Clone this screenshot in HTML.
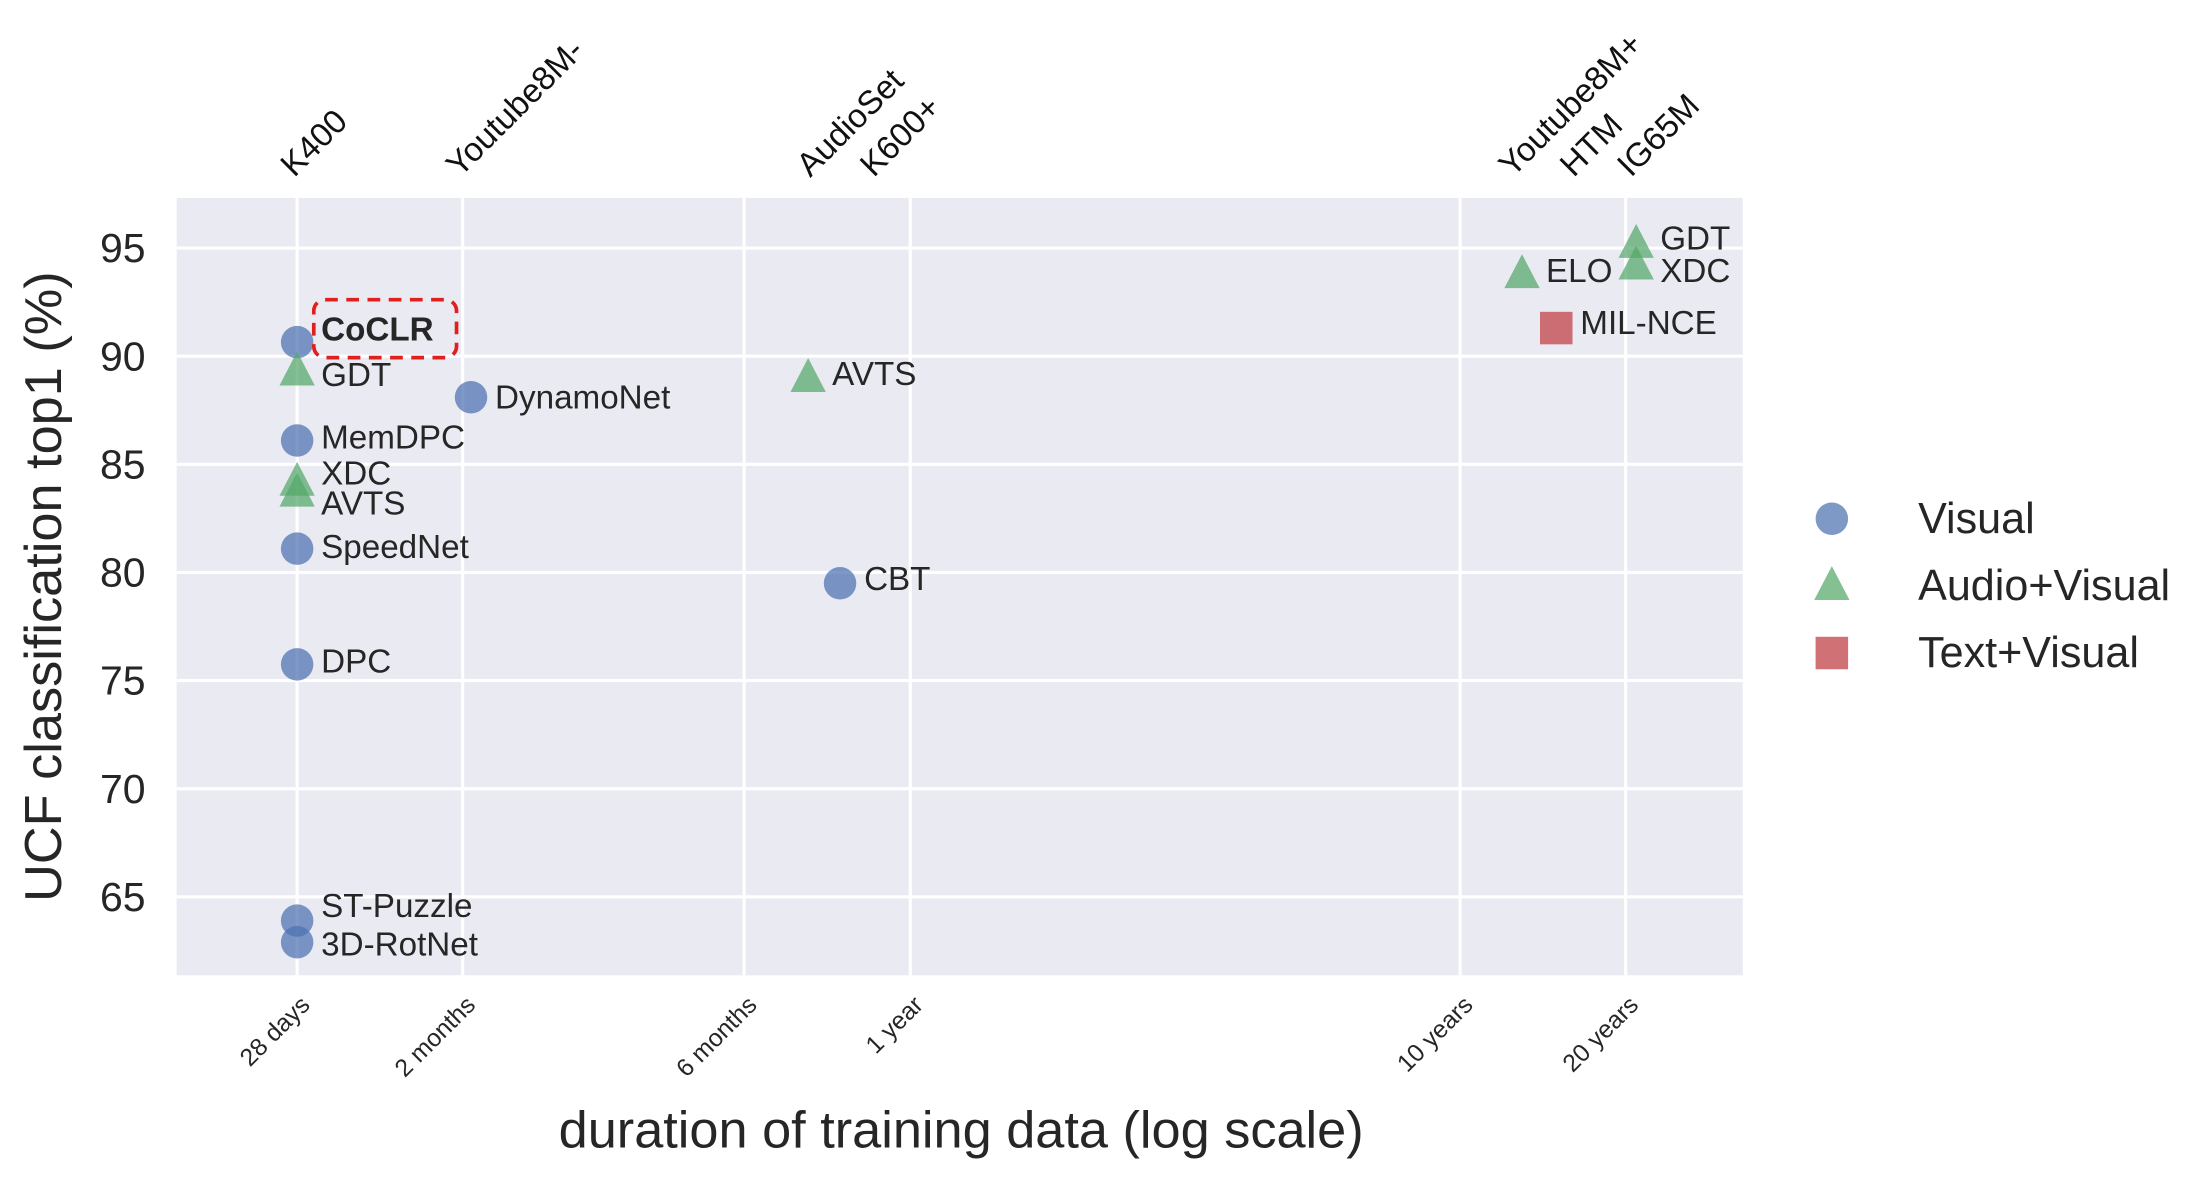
<!DOCTYPE html>
<html><head><meta charset="utf-8"><style>
html,body{margin:0;padding:0;background:#fff;}
svg{display:block;font-family:"Liberation Sans",Arial,sans-serif;}
</style></head><body>
<svg id="chart" width="2205" height="1177" viewBox="0 0 1560 832.7" xmlns="http://www.w3.org/2000/svg"></svg>
<script>
// ---- data ----
const yTicks = [65, 70, 75, 80, 85, 90, 95];
const xTickDays = [28, 56, 182, 365, 3650, 7300];
const xTickLabels = ['28 days', '2 months', '6 months', '1 year', '10 years', '20 years'];
const topDays = [28, 56, 243, 317, 4600, 5940, 7550];
const topLabels = ['K400', 'Youtube8M-', 'AudioSet', 'K600+', 'Youtube8M+', 'HTM', 'IG65M'];
const names = ['CoCLR','MemDPC','SpeedNet','DPC','ST-Puzzle','3D-RotNet','DynamoNet','CBT',
               'GDT','XDC','AVTS','AVTS','ELO','GDT','XDC','MIL-NCE'];
const kinds = ['v','v','v','v','v','v','v','v','a','a','a','a','a','a','a','t'];
const days = [28,28,28,28,28,28,58,272,28,28,28,238,4730,7630,7630,5460];
const acc = [90.65,86.1,81.1,75.75,63.9,62.9,88.1,79.5,89.3,84.2,83.7,89.0,93.8,95.2,94.2,91.3];
const labelAcc = [91.25,86.25,81.2,75.9,64.6,62.8,88.1,79.7,89.15,84.6,83.2,89.2,93.95,95.45,93.95,91.55];

// ---- scales (viewBox units) ----
const L=125,R=1233,T=140,B=690;
function xs(d){return 644+(Math.log10(d)-Math.log10(365))*389;}
function ys(v){return 252-(v-90)*15.3;}
const NS='http://www.w3.org/2000/svg';
const svg=document.getElementById('chart');
function mk(tag,attrs,parent){const e=document.createElementNS(NS,tag);for(const k in attrs)e.setAttribute(k,attrs[k]);(parent||svg).appendChild(e);return e;}

const bg=mk('rect',{x:L,y:T,width:R-L,height:B-T,fill:'#eaeaf2'});



yTicks.forEach(v=>{
  const g=mk('line',{x1:L,x2:R,y1:ys(v),y2:ys(v),stroke:'#fff','stroke-width':2.2});
  
  
  const t=mk('text',{x:103,y:ys(v)+10,'text-anchor':'end','font-size':29,fill:'#262626'});
  t.textContent=v;
  
  
});
xTickDays.forEach((d,i)=>{
  const x=xs(d);
  const g=mk('line',{x1:x,x2:x,y1:T,y2:B,stroke:'#fff','stroke-width':2.2});
  
  
  const t=mk('text',{x:0,y:0,'text-anchor':'end','font-size':17.5,fill:'#262626',transform:`translate(${x+10},${712}) rotate(-45)`});
  t.textContent=xTickLabels[i];
  
  
});
topDays.forEach((d,i)=>{
  const x=xs(d);
  const t=mk('text',{x:0,y:0,'font-size':23.5,fill:'#111',transform:`translate(${x-2},${126}) rotate(-45)`});
  t.textContent=topLabels[i];
  
  
});

const colors={v:'#4c72b0',a:'#55a868',t:'#c44e52'};
function marker(kind,x,y,parent){
  let e;
  if(kind==='v') e=mk('circle',{cx:x,cy:y,r:11.5,fill:colors.v,'fill-opacity':0.72},parent);
  else if(kind==='a') e=mk('polygon',{points:`${x},${y-14} ${x-12.5},${y+10} ${x+12.5},${y+10}`,fill:colors.a,'fill-opacity':0.72},parent);
  else e=mk('rect',{x:x-11.5,y:y-11.5,width:23,height:23,fill:colors.t,'fill-opacity':0.8},parent);
  return e;
}
names.forEach((n,i)=>{
  const x=xs(days[i]),y=ys(acc[i]);
  const m=marker(kinds[i],x,y);
  
  
  const t=mk('text',{x:x+17,y:ys(labelAcc[i])+8,'font-size':23.5,fill:'#262626','font-weight':n==='CoCLR'?'bold':'normal'});
  t.textContent=n;
  
  
});
const box=mk('rect',{x:222,y:212,width:101,height:41,rx:8,fill:'none',stroke:'#e0201c','stroke-width':2.6,'stroke-dasharray':'9,6'});



const yt=mk('text',{x:0,y:0,'text-anchor':'middle','font-size':37,fill:'#262626',transform:'translate(43,415) rotate(-90)'});
yt.textContent='UCF classification top1 (%)';


const xt=mk('text',{x:680,y:830-18,'text-anchor':'middle','font-size':37,fill:'#262626'});
xt.textContent='duration of training data (log scale)';



const legKinds=['v','a','t'];
const legNames=['Visual','Audio+Visual','Text+Visual'];
legKinds.forEach((k,i)=>{
  const y=367+i*47.5;
  const m=marker(k,1296,y);
  
  
  const t=mk('text',{x:1357,y:y+10,'font-size':30.5,fill:'#262626'});
  t.textContent=legNames[i];
  
  
});
</script>
</body></html>
